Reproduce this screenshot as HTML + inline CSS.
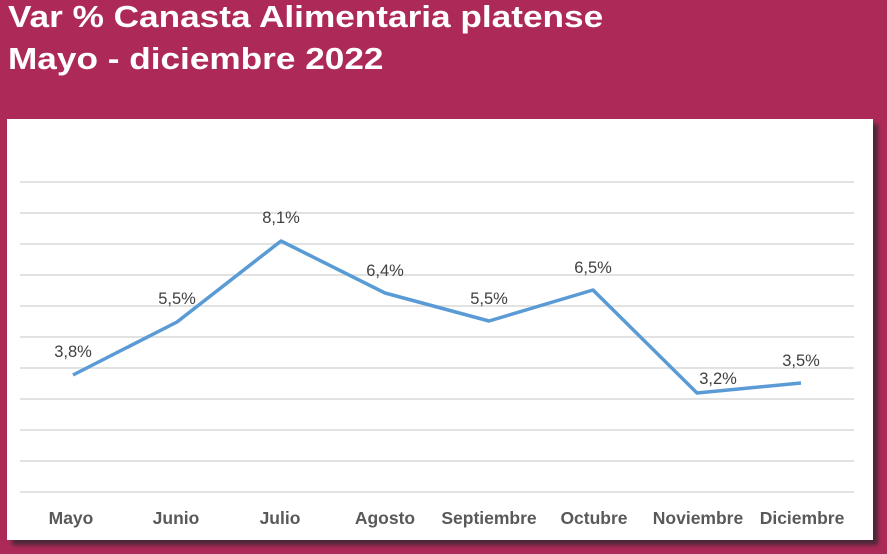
<!DOCTYPE html>
<html><head><style>
body{margin:0;width:887px;height:554px;background:#ad2a58;overflow:hidden;font-family:"Liberation Sans",sans-serif;position:relative}
.t{position:absolute;left:8px;color:#fff;font-weight:bold;font-size:31px;transform:scaleX(1.135);transform-origin:0 0;white-space:nowrap}
.panel{position:absolute;left:7px;top:119px;width:866px;height:421px;background:#fff;box-shadow:5px 5px 4px #4a2838}
</style></head><body>
<div class="t" style="top:-1px">Var % Canasta Alimentaria platense</div>
<div class="t" style="top:41px">Mayo - diciembre 2022</div>
<div class="panel"></div>
<svg style="position:absolute;left:0;top:0" width="887" height="554">
<g stroke="#d9d9d9" stroke-width="1.5">
<line x1="20" x2="854" y1="182" y2="182"/><line x1="20" x2="854" y1="213" y2="213"/>
<line x1="20" x2="854" y1="244" y2="244"/><line x1="20" x2="854" y1="275" y2="275"/>
<line x1="20" x2="854" y1="306" y2="306"/><line x1="20" x2="854" y1="337" y2="337"/>
<line x1="20" x2="854" y1="368" y2="368"/><line x1="20" x2="854" y1="399" y2="399"/>
<line x1="20" x2="854" y1="430" y2="430"/><line x1="20" x2="854" y1="461" y2="461"/>
<line x1="20" x2="854" y1="492" y2="492"/>
</g>
<polyline fill="none" stroke="#5b9bd5" stroke-width="3.5" stroke-linejoin="round" points="73,375 177,322 281,241 385,293 489,321 593,290 697,393 801,383"/>
<g font-size="16.5" fill="#404040" text-anchor="middle">
<text x="73" y="357">3,8%</text><text x="177" y="304">5,5%</text><text x="281" y="223">8,1%</text>
<text x="385" y="276">6,4%</text><text x="489" y="304">5,5%</text><text x="593" y="273">6,5%</text>
<text x="718" y="384">3,2%</text><text x="801" y="366">3,5%</text>
</g>
<g font-size="17.5" font-weight="bold" fill="#595959" text-anchor="middle">
<text x="71" y="524">Mayo</text><text x="176" y="524">Junio</text><text x="280" y="524">Julio</text>
<text x="385" y="524">Agosto</text><text x="489" y="524">Septiembre</text><text x="594" y="524">Octubre</text>
<text x="698" y="524">Noviembre</text><text x="802" y="524">Diciembre</text>
</g>
</svg>
</body></html>
